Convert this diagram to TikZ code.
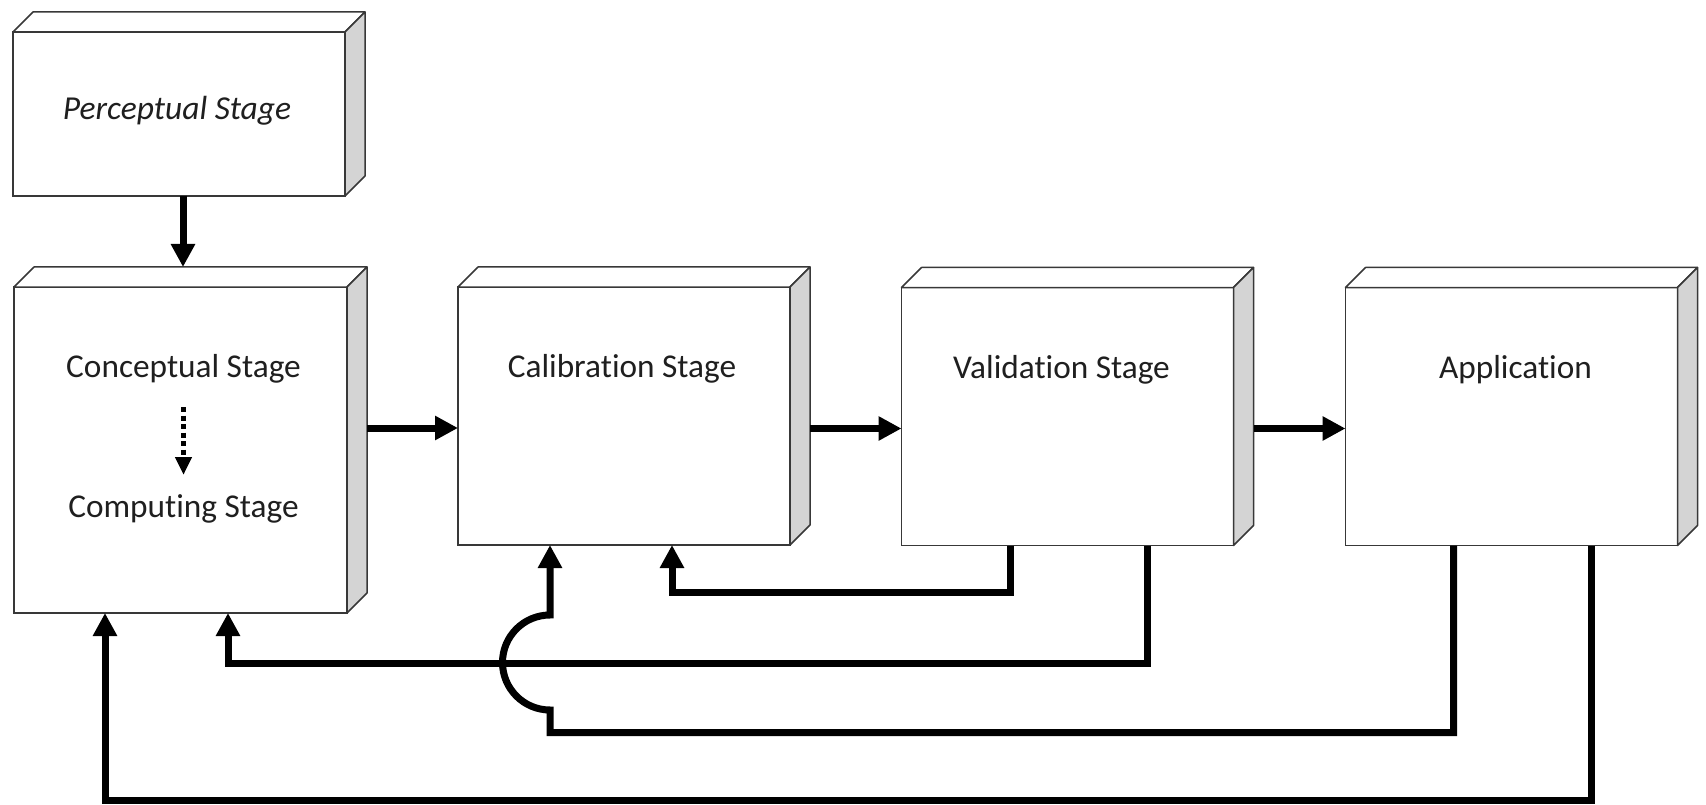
\documentclass[tikz,border=0pt]{standalone}
\usepackage{fontspec}
\setmainfont{Carlito}[Ligatures={NoCommon,NoContextual}]
\usetikzlibrary{arrows.meta,calc}

\tikzset{
  face/.style={draw=black!78, line width=1.5pt, fill=white, inner sep=0pt, outer sep=0pt},
  stagebox/.style={face, minimum width=332pt, minimum height=258pt},
  sideface/.style={draw=black!78, line width=1.5pt, fill=black!17, line join=round},
  topface/.style={draw=black!78, line width=1.5pt, fill=white, line join=round},
  caption/.style={inner sep=0pt, text=black!88, font=\fontsize{33.3}{38}\selectfont},
  flow/.style={line width=7pt, line join=miter, -{Triangle[length=23pt,width=23pt]}},
  dotflow/.style={line width=5.5pt, dash pattern=on 5pt off 3.5pt, -{Triangle[length=18pt,width=16pt]}}
}

\begin{document}
\begin{tikzpicture}[x=1pt, y=-1pt]
\useasboundingbox (0,0) rectangle (1706,805);

% front faces of the stage blocks
\node[face, minimum width=332pt, minimum height=164pt] (perc) at (179,114) {};
\node[face, minimum width=333pt, minimum height=326pt] (con) at (180.5,450) {};
\node[stagebox] (cal) at (624,416) {};
\node[stagebox] (val) at (1067.5,416.5) {};
\node[stagebox] (app) at (1511.5,416.5) {};

% top and side faces give each block its depth
\foreach \b in {perc,con,cal,val,app}{
  \filldraw[topface] (\b.north west) -- ++(20,-20) -- ($(\b.north east)+(20,-20)$) -- (\b.north east) -- cycle;
  \filldraw[sideface] (\b.north east) -- ++(20,-20) -- ($(\b.south east)+(20,-20)$) -- (\b.south east) -- cycle;
}

% block captions
\node[caption, font=\fontsize{33.5}{38}\selectfont\itshape] (perct) at ($(perc.center)+(-2,-3)$) {Perceptual Stage};
\node[caption] (cont) at ($(con.center)+(3,-81)$) {Conceptual Stage};
\node[caption] (comt) at ($(con.center)+(3,59)$) {Computing Stage};
\node[caption] (calt) at ($(cal.north)+(-2,82)$) {Calibration Stage};
\node[caption] (valt) at ($(val.north)+(-6,82)$) {Validation Stage};
\node[caption] (appt) at ($(app.north)+(4,82)$) {Application};

% inner step from conceptual to computing
\draw[dotflow, shorten <=38pt, shorten >=34pt] (cont.center) -- (comt.center);

% forward flow
\draw[flow] ($(perc.south)+(4,0)$) -- ($(con.north)+(2.5,-20)$);
\coordinate (incal) at ($(cal.west)+(0,12)$);
\coordinate (inval) at ($(val.west)+(0,12)$);
\coordinate (inapp) at ($(app.west)+(0,12)$);
\draw[flow] ($(con.east |- incal)+(20,0)$) -- (incal);
\draw[flow] ($(cal.east |- inval)+(20,0)$) -- (inval);
\draw[flow] ($(val.east |- inapp)+(20,0)$) -- (inapp);

% feedback loops
\coordinate (jump) at ($(cal.south)+(-74,0)$);
\draw[flow] ($(val.south)+(-57.5,0)$) -- ++(0,47) -| ($(cal.south)+(48,0)$);
\draw[flow] ($(val.south)+(80,0)$) -- ++(0,118) -| ($(con.south)+(47.5,0)$);
\draw[flow] ($(app.south)+(-58,0)$) -- ++(0,187) -| ($(jump)+(0,165)$)
  arc[start angle=270, end angle=90, radius=47.5pt] -- (jump);
\draw[flow] ($(app.south)+(79.5,0)$) -- ++(0,255) -| ($(con.south)+(-75.5,0)$);
\end{tikzpicture}
\end{document}
